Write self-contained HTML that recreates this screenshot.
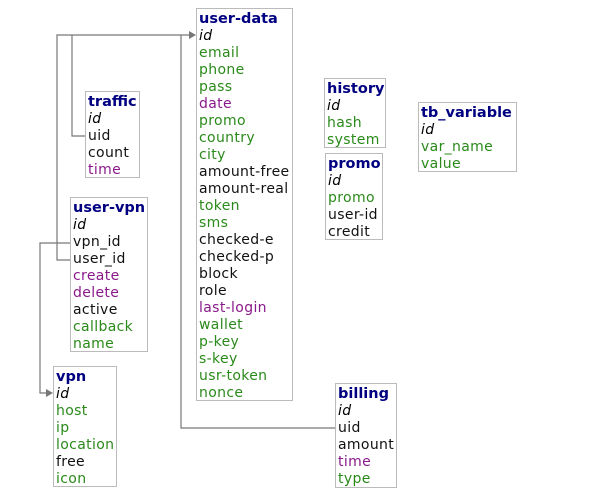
<!DOCTYPE html>
<html><head><meta charset="utf-8"><style>
body{margin:0;width:608px;height:503px;background:#fff;position:relative;overflow:hidden;font-family:"DejaVu Sans","Liberation Sans",sans-serif;font-size:14px}
.b{position:absolute;border:1px solid #bbb;background:#fff;padding:2px 2px 0 2px;line-height:17px;box-sizing:border-box;white-space:nowrap;letter-spacing:0.35px}
.t{font-weight:bold;color:#000080;font-size:14.5px;letter-spacing:0}
.i{font-style:italic;color:#000}
.g{color:#2a8a1a}
.p{color:#8a1a8a}
.k{color:#111}
svg{position:absolute;left:0;top:0}
</style></head><body>
<svg width="608" height="503">
<g stroke="#777" stroke-width="1.2" fill="none">
<polyline points="85,136 72,136 72,35"/>
<polyline points="70,260 57,260 57,35 190,35"/>
<polyline points="181,35 181,428 335,428"/>
<polyline points="70,243 40,243 40,393 48,393"/>
</g>
<polygon points="196,35 189,31 189,39" fill="#777"/>
<polygon points="53,393 46,389 46,397" fill="#777"/>
</svg>
<div class="b" style="left:196px;top:8px;width:97px;height:393px"><div class="t">user-data</div><div class="i">id</div><div class="g">email</div><div class="g">phone</div><div class="g">pass</div><div class="p">date</div><div class="g">promo</div><div class="g">country</div><div class="g">city</div><div class="k">amount-free</div><div class="k">amount-real</div><div class="g">token</div><div class="g">sms</div><div class="k">checked-e</div><div class="k">checked-p</div><div class="k">block</div><div class="k">role</div><div class="p">last-login</div><div class="g">wallet</div><div class="g">p-key</div><div class="g">s-key</div><div class="g">usr-token</div><div class="g">nonce</div></div>
<div class="b" style="left:85px;top:91px;width:55px;height:87px"><div class="t">traffic</div><div class="i">id</div><div class="k">uid</div><div class="k">count</div><div class="p">time</div></div>
<div class="b" style="left:70px;top:197px;width:78px;height:155px"><div class="t">user-vpn</div><div class="i">id</div><div class="k">vpn_id</div><div class="k">user_id</div><div class="p">create</div><div class="p">delete</div><div class="k">active</div><div class="g">callback</div><div class="g">name</div></div>
<div class="b" style="left:53px;top:366px;width:64px;height:121px"><div class="t">vpn</div><div class="i">id</div><div class="g">host</div><div class="g">ip</div><div class="g">location</div><div class="k">free</div><div class="g">icon</div></div>
<div class="b" style="left:324px;top:78px;width:62px;height:70px"><div class="t">history</div><div class="i">id</div><div class="g">hash</div><div class="g">system</div></div>
<div class="b" style="left:325px;top:153px;width:58px;height:87px"><div class="t">promo</div><div class="i">id</div><div class="g">promo</div><div class="k">user-id</div><div class="k">credit</div></div>
<div class="b" style="left:418px;top:102px;width:99px;height:70px"><div class="t">tb_variable</div><div class="i">id</div><div class="g">var_name</div><div class="g">value</div></div>
<div class="b" style="left:335px;top:383px;width:62px;height:105px"><div class="t">billing</div><div class="i">id</div><div class="k">uid</div><div class="k">amount</div><div class="p">time</div><div class="g">type</div></div>
</body></html>
